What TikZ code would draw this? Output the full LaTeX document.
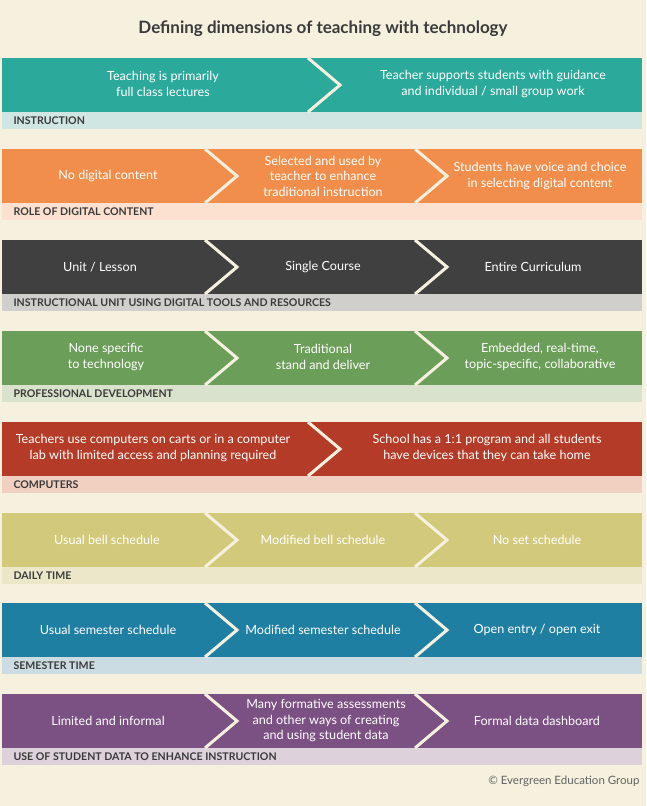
\documentclass[tikz,border=0pt]{standalone}
\usepackage{fontspec}
\setmainfont{Lato}
\definecolor{bg}{HTML}{F6F1DF}
\definecolor{cA}{HTML}{2BA99B}\definecolor{sA}{HTML}{CFE6E2}
\definecolor{cB}{HTML}{F28E4C}\definecolor{sB}{HTML}{FDE1D0}
\definecolor{cC}{HTML}{404040}\definecolor{sC}{HTML}{D0CFCB}
\definecolor{cD}{HTML}{6B9E58}\definecolor{sD}{HTML}{D8E2CC}
\definecolor{cE}{HTML}{B33B27}\definecolor{sE}{HTML}{F1D0C2}
\definecolor{cF}{HTML}{D2CA7A}\definecolor{sF}{HTML}{ECE7C9}
\definecolor{cG}{HTML}{1F7FA2}\definecolor{sG}{HTML}{CCDCE3}
\definecolor{cH}{HTML}{7B5082}\definecolor{sH}{HTML}{DDD1DB}
\definecolor{txt}{HTML}{3A3A3A}
\tikzset{
 cell/.style={text=white,font=\fontsize{12.6}{15.5}\selectfont,align=center},
 lab/.style={anchor=west,text=txt,font=\fontsize{10.6}{12}\selectfont\bfseries},
 chev/.style={draw=bg,line width=3pt}
}
\begin{document}
\begin{tikzpicture}[x=1pt,y=-1pt]
\fill[bg] (0,0) rectangle (646,806);
\useasboundingbox (0,0) rectangle (646,806);
\node[text=txt,font=\fontsize{17}{19}\selectfont\bfseries] (title) at (323,29) {Defining dimensions of teaching with technology};
\newcommand{\band}[5]{%
 \fill[#2] (2,#1) rectangle (642,#1+54);
 \fill[#3] (2,#1+54) rectangle (642,#1+71);
 \node[lab] (#5) at (10,#1+63) {#4};}
\newcommand{\chv}[2]{\draw[chev] (#1,#2) -- (#1+32,#2+27) -- (#1,#2+54);}
\band{58}{cA}{sA}{INSTRUCTION}{l1}
\chv{308}{58}
\node[cell] (a1) at (163,84) {Teaching is primarily\\full class lectures};
\node[cell] (a2) at (493,84) {Teacher supports students with guidance\\and individual / small group work};
\band{149}{cB}{sB}{ROLE OF DIGITAL CONTENT}{l2}
\chv{205}{149}\chv{415}{149}
\node[cell] (b1) at (108,176) {No digital content};
\node[cell] (b2) at (323,176) {Selected and used by\\teacher to enhance\\traditional instruction};
\node[cell] (b3) at (540,176) {Students have voice and choice\\in selecting digital content};
\band{240}{cC}{sC}{INSTRUCTIONAL UNIT USING DIGITAL TOOLS AND RESOURCES}{l3}
\chv{205}{240}\chv{415}{240}
\node[cell] (c1) at (100,267) {Unit / Lesson};
\node[cell] (c2) at (323,267) {Single Course};
\node[cell] (c3) at (533,267) {Entire Curriculum};
\band{331}{cD}{sD}{PROFESSIONAL DEVELOPMENT}{l4}
\chv{205}{331}\chv{415}{331}
\node[cell] (d1) at (106,357) {None specific\\to technology};
\node[cell] (d2) at (323,357) {Traditional\\stand and deliver};
\node[cell] (d3) at (540,357) {Embedded, real-time,\\topic-specific, collaborative};
\band{422}{cE}{sE}{COMPUTERS}{l5}
\chv{308}{422}
\node[cell] (e1) at (153,448) {Teachers use computers on carts or in a computer\\lab with limited access and planning required};
\node[cell] (e2) at (487,448) {School has a 1:1 program and all students\\have devices that they can take home};
\band{513}{cF}{sF}{DAILY TIME}{l6}
\chv{205}{513}\chv{415}{513}
\node[cell] (f1) at (107,540) {Usual bell schedule};
\node[cell] (f2) at (323,540) {Modified bell schedule};
\node[cell] (f3) at (537,540) {No set schedule};
\band{603}{cG}{sG}{SEMESTER TIME}{l7}
\chv{205}{603}\chv{415}{603}
\node[cell] (g1) at (108,630) {Usual semester schedule};
\node[cell] (g2) at (323,630) {Modified semester schedule};
\node[cell] (g3) at (537,630) {Open entry / open exit};
\band{694}{cH}{sH}{USE OF STUDENT DATA TO ENHANCE INSTRUCTION}{l8}
\chv{205}{694}\chv{415}{694}
\node[cell] (h1) at (108,721) {Limited and informal};
\node[cell] (h2) at (326,721) {Many formative assessments\\and other ways of creating\\and using student data};
\node[cell] (h3) at (537,721) {Formal data dashboard};
\node[anchor=east,text=txt!80,font=\fontsize{11.5}{13}\selectfont] (copy) at (643,781) {© Evergreen Education Group};
\end{tikzpicture}
\end{document}
